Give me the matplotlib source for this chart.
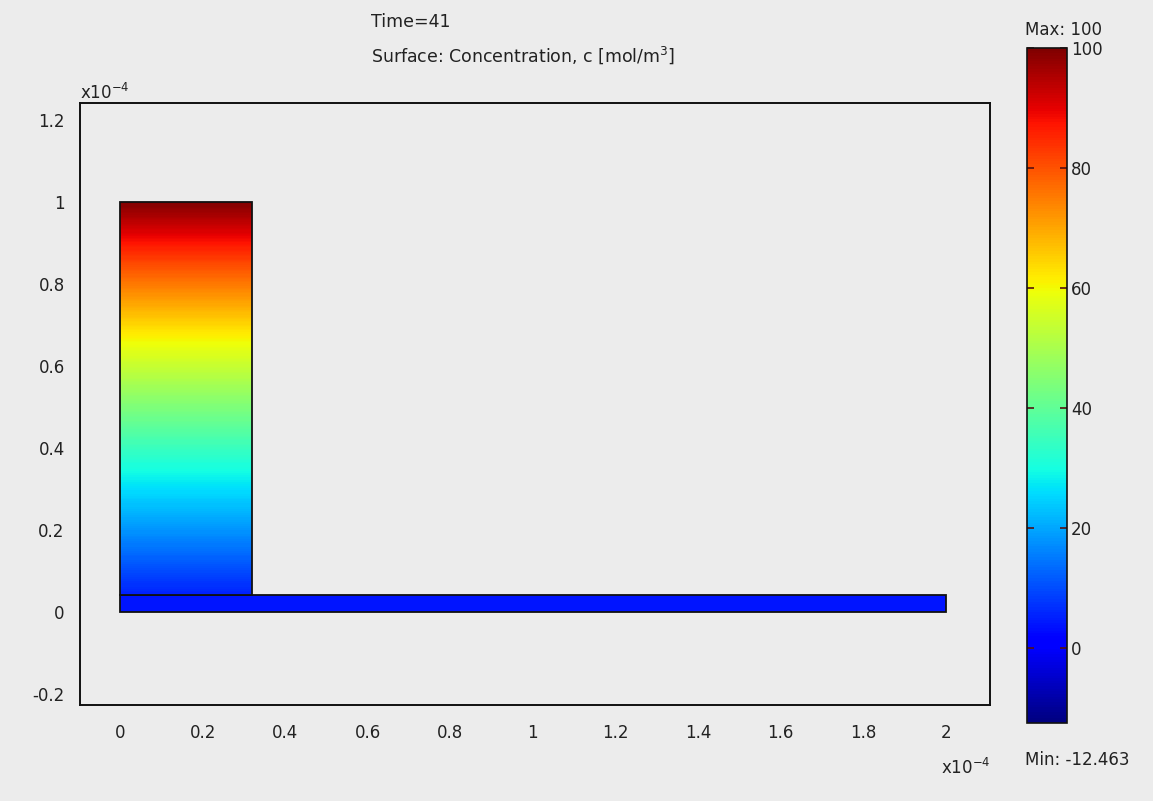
import numpy as np
import matplotlib
matplotlib.use("Agg")
import matplotlib.pyplot as plt
from matplotlib.patches import Rectangle

# geometry (units of 1e-4 m)
rect_w = 0.32
rect_top = 1.0
strip_len = 2.0
strip_h = 0.04

# concentration profile along the tall rectangle
y_prof = [0.04, 0.2, 0.36, 0.52, 0.68, 0.84, 1.0]
c_prof = [5.0, 18.0, 31.0, 46.0, 62.0, 80.0, 100.0]
c_strip = 4.0

c_min = -12.463
c_max = 100.0
cbar_ticks = [0, 20, 40, 60, 80, 100]
x_ticks = [0, 0.2, 0.4, 0.6, 0.8, 1, 1.2, 1.4, 1.6, 1.8, 2]
y_ticks = [-0.2, 0, 0.2, 0.4, 0.6, 0.8, 1, 1.2]

bg = "#ececec"
plt.rcParams['font.family'] = ['DejaVu Sans']
fig = plt.figure(figsize=(11.53, 8.01), dpi=100, facecolor=bg)
ax = fig.add_axes([0.0694, 0.1199, 0.789, 0.7516], facecolor=bg)

cmap = plt.get_cmap("jet")
norm = matplotlib.colors.Normalize(vmin=c_min, vmax=c_max)

# strip
ax.add_patch(Rectangle((0, 0), strip_len, strip_h, facecolor=cmap(norm(c_strip)),
                       edgecolor="#111111", lw=1.3, zorder=2))

# tall rectangle
X, Y = np.meshgrid([0, rect_w], y_prof)
C = np.array([[c, c] for c in c_prof])
ax.contourf(X, Y, C, levels=np.linspace(c_min, c_max, 300), cmap=cmap, norm=norm, zorder=3)
ax.add_patch(Rectangle((0, strip_h), rect_w, rect_top - strip_h, facecolor="none",
                       edgecolor="#111111", lw=1.3, zorder=4))

ax.set_xlim(-0.097, 2.107)
ax.set_ylim(-0.227, 1.241)
ax.set_xticks(x_ticks)
ax.set_xticklabels(["0", "0.2", "0.4", "0.6", "0.8", "1", "1.2", "1.4", "1.6", "1.8", "2"])
ax.set_yticks(y_ticks)
ax.set_yticklabels(["-0.2", "0", "0.2", "0.4", "0.6", "0.8", "1", "1.2"])
ax.tick_params(axis="both", length=0, labelsize=12, colors="#222222")
ax.tick_params(axis="x", pad=14)
ax.tick_params(axis="y", pad=11)
for s in ax.spines.values():
    s.set_linewidth(1.4)
    s.set_color("#111111")

ax.text(0.0, 1.0, r"x10$^{-4}$", transform=ax.transAxes, fontsize=12,
        ha="left", va="bottom", color="#222222")
fig.text(0.816, 0.041, r"x10$^{-4}$", fontsize=12, ha="left", va="center", color="#222222")

fig.text(0.322, 0.972, "Time=41", fontsize=12.5, ha="left", va="center", color="#222222")
fig.text(0.322, 0.931, r"Surface: Concentration, c [mol/m$^3$]", fontsize=12.5,
         ha="left", va="center", color="#222222")

# colorbar
cax = fig.add_axes([0.8907, 0.0974, 0.0347, 0.8427])
sm = matplotlib.cm.ScalarMappable(norm=norm, cmap=cmap)
cb = fig.colorbar(sm, cax=cax, ticks=cbar_ticks)
cb.outline.set_linewidth(1.2)
cb.outline.set_edgecolor("#111111")
cax.tick_params(axis="y", direction="in", left=True, right=True, length=5,
                width=1.2, color="#551111", labelsize=12, labelcolor="#222222", pad=3)
fig.text(0.889, 0.962, "Max: 100", fontsize=12, ha="left", va="center", color="#222222")
fig.text(0.889, 0.051, "Min: -12.463", fontsize=12, ha="left", va="center", color="#222222")

fig.savefig("out.png", dpi=100, facecolor=bg)
